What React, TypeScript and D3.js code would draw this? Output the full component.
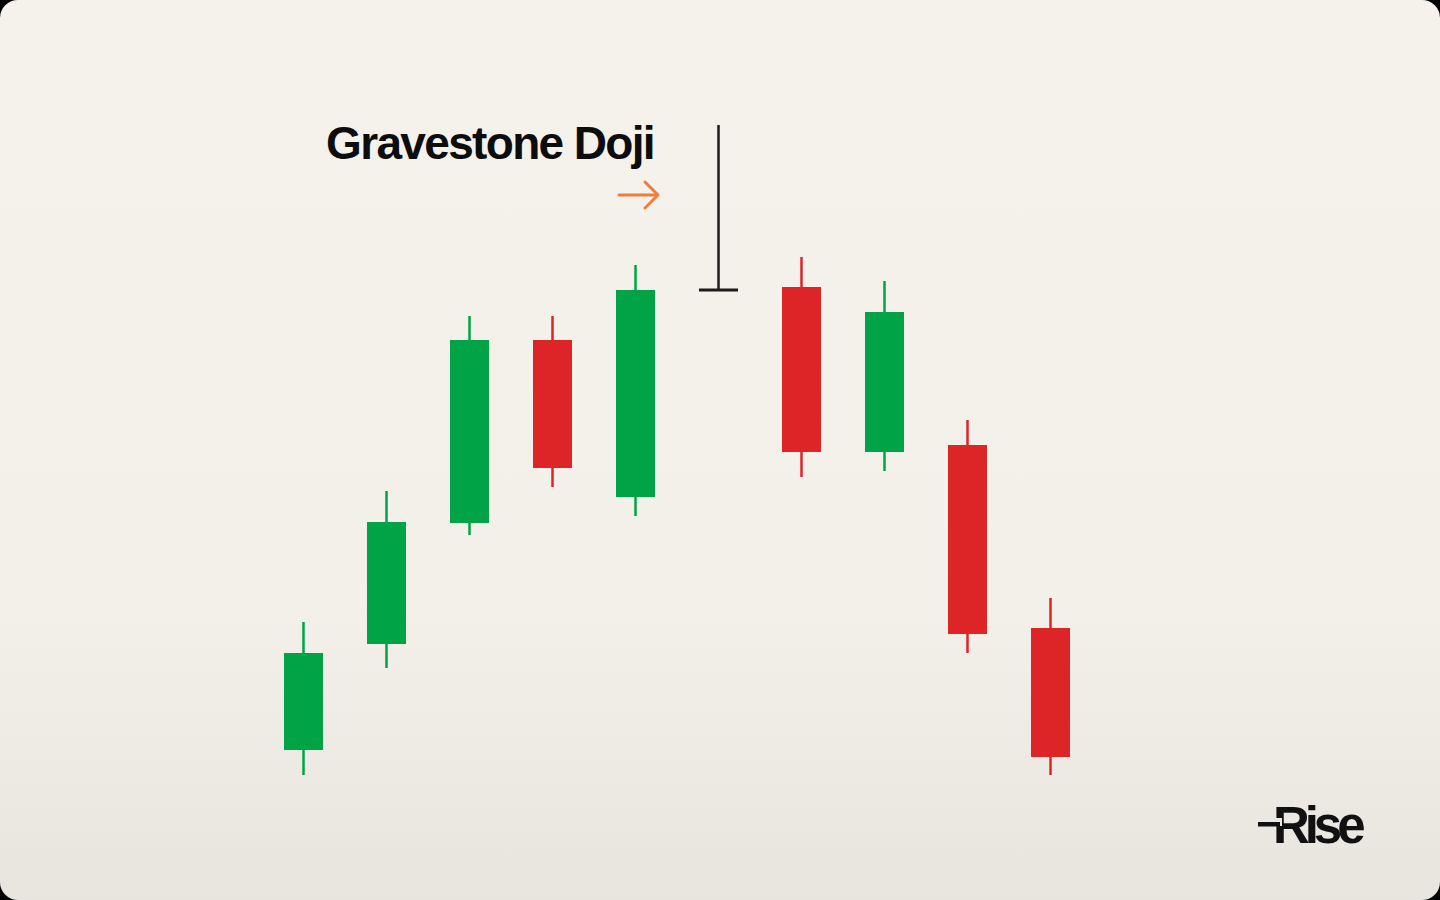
import React from 'react';
import * as d3 from 'd3';

type Candle = { open: number, close: number, high: number, low: number };

// price levels
const opens = [150, 256, 377, 560, 403, 610, 613, 448, 455, 272];
const closes = [247, 378, 560, 432, 610, 610, 448, 588, 266, 143];
const highs = [278, 409, 584, 584, 635, 775, 643, 619, 480, 302];
const lows = [125, 232, 365, 413, 384, 610, 423, 429, 247, 125];
const dojiIndex = 5;

const title = 'Gravestone Doji';
const brand = 'Rise';

const WIDTH = 1440;
const HEIGHT = 900;
const GREEN = '#00a345';
const RED = '#dd2427';
const ORANGE = '#ef7d3f';
const FONT = "'Liberation Sans', Arial, sans-serif";

const candles: Candle[] = opens.map((open, i) => ({
  open,
  close: closes[i],
  high: highs[i],
  low: lows[i],
}));

const App = () => {
  const x = d3
    .scaleBand<number>()
    .domain(d3.range(candles.length))
    .range([262, 1092])
    .paddingInner(0.53)
    .paddingOuter(0.265);

  const y = d3
    .scaleLinear()
    .domain([0, 900])
    .range([900, 0]);

  const bw = x.bandwidth();

  return (
    <div style={{ position: 'fixed', left: 0, top: 0, width: WIDTH, height: HEIGHT, background: '#000' }}>
      <svg width={WIDTH} height={HEIGHT} viewBox={`0 0 ${WIDTH} ${HEIGHT}`} style={{ display: 'block' }}>
        <defs>
          <linearGradient id="bg" x1="0" y1="0" x2="0" y2="1">
            <stop offset="0" stopColor="#f5f2ec" />
            <stop offset="0.68" stopColor="#f3f0ea" />
            <stop offset="1" stopColor="#e8e5de" />
          </linearGradient>
        </defs>
        <rect x={0} y={0} width={WIDTH} height={HEIGHT} rx={18} fill="url(#bg)" />

        <g className="candles">
          {candles.map((c, i) => {
            const cx = x(i)! + bw / 2;
            if (i === dojiIndex) {
              return (
                <g key={i} stroke="#1c1c1c" strokeWidth={3}>
                  <line x1={cx} x2={cx} y1={y(c.high)} y2={y(c.low)} strokeWidth={2.5} />
                  <line x1={x(i)!} x2={x(i)! + bw} y1={y(c.open)} y2={y(c.open)} />
                </g>
              );
            }
            const color = c.close >= c.open ? GREEN : RED;
            const top = y(Math.max(c.open, c.close));
            const bottom = y(Math.min(c.open, c.close));
            return (
              <g key={i}>
                <line x1={cx} x2={cx} y1={y(c.high)} y2={y(c.low)} stroke={color} strokeWidth={2.5} />
                <rect x={x(i)!} y={top} width={bw} height={bottom - top} fill={color} />
              </g>
            );
          })}
        </g>

        <text
          x={326}
          y={158.5}
          textLength={328}
          lengthAdjust="spacing"
          fontFamily={FONT}
          fontWeight={700}
          fontSize={46}
          letterSpacing={-1.6}
          fill="#0d0d0d"
        >
          {title}
        </text>

        <g stroke={ORANGE} strokeWidth={3} fill="none" strokeLinecap="round" strokeLinejoin="round">
          <line x1={619} x2={657} y1={195} y2={195} />
          <polyline points="645,182 658,195 645,208" />
        </g>

        <g fill="#111">
          <text
            x={1273}
            y={843}
            textLength={90}
            lengthAdjust="spacing"
            fontFamily={FONT}
            fontWeight={700}
            fontSize={51}
            letterSpacing={-2.5}
          >
            {brand}
          </text>
          <rect x={1276} y={818} width={6} height={8} fill="#ebe8e2" />
          <rect x={1258} y={822} width={22} height={4.5} />
        </g>
      </svg>
    </div>
  );
};

export default App;
